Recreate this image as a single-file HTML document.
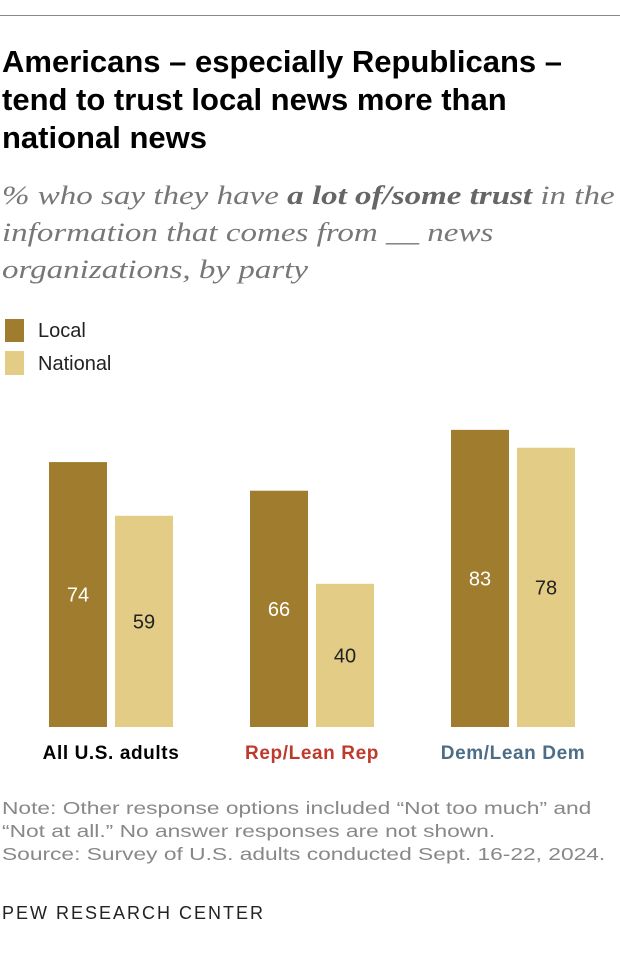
<!DOCTYPE html>
<html><head><meta charset="utf-8"><style>
body{margin:0;background:#fff;width:620px;height:968px;position:relative;overflow:hidden;font-family:"Liberation Sans",sans-serif}
.abs{position:absolute;white-space:nowrap}
.title{left:2px;font-family:"Liberation Sans Narrow","Liberation Sans",sans-serif;font-weight:bold;font-size:31px;color:#000;line-height:38px;top:43px}
.sub{left:2px;top:177px;font-family:"Liberation Serif",serif;font-style:italic;font-size:26px;line-height:37px;color:#777;transform:scaleX(1.27);transform-origin:0 0}
.sub b{color:#666}
.leg{font-size:20px;color:#222}
.note{left:2px;font-size:17.5px;color:#888;line-height:23px;top:797px;transform:scaleX(1.3);transform-origin:0 0}
</style></head><body>
<div class="abs" style="left:0;top:15px;width:620px;height:1px;background:#888"></div>
<div class="abs title">Americans – especially Republicans –<br>tend to trust local news more than<br>national news</div>
<div class="abs sub">% who say they have <b>a lot of/some trust</b> in the<br>information that comes from __ news<br>organizations, by party</div>
<div class="abs" style="left:5px;top:319px;width:19px;height:23px;background:#a07d2e"></div>
<div class="abs leg" style="left:38px;top:320px">Local</div>
<div class="abs" style="left:5px;top:351px;width:19px;height:24px;background:#e3cc85"></div>
<div class="abs leg" style="left:38px;top:353px">National</div>
<svg id="chart" class="abs" style="left:0;top:0" width="620" height="780"></svg>
<div class="abs note">Note: Other response options included “Not too much” and<br>“Not at all.” No answer responses are not shown.<br>Source: Survey of U.S. adults conducted Sept. 16-22, 2024.</div>
<div class="abs" style="left:2px;top:903px;font-size:18px;color:#222;letter-spacing:2px">PEW RESEARCH CENTER</div>
<script>
const categories=["All U.S. adults","Rep/Lean Rep","Dem/Lean Dem"];
const localVals=[74,66,83];
const nationalVals=[59,40,78];
const catColors=["#000","#bf3a2b","#4d6d86"];
const NS="http://www.w3.org/2000/svg";
const svg=document.getElementById('chart');
const base=727,scale=3.58,groupX=[49,250,451],bw=58,gap=8;
function y(v){return base-v*scale;}
function add(tag,attrs,text){const e=document.createElementNS(NS,tag);for(const k in attrs)e.setAttribute(k,attrs[k]);if(text!=null)e.textContent=text;svg.appendChild(e);return e;}
categories.forEach((c,i)=>{
  [[localVals[i],"#a07d2e","#fff","local"],[nationalVals[i],"#e3cc85","#222","national"]].forEach((s,j)=>{
    const x=groupX[i]+j*(bw+gap);
    const r=add('rect',{x:x,y:y(s[0]),width:bw,height:base-y(s[0]),fill:s[1]});
    
    
    const t=add('text',{x:x+bw/2,y:(y(s[0])+base)/2+7,'text-anchor':'middle','font-size':20,fill:s[2],'font-family':'Liberation Sans, sans-serif'},s[0]);
    
    
  });
  const l=add('text',{x:groupX[i]+bw+gap/2,y:759,'text-anchor':'middle','font-size':19,'font-weight':'bold','letter-spacing':0.6,fill:catColors[i],'font-family':'Liberation Sans, sans-serif'},c);
  
  
});
</script>
</body></html>
